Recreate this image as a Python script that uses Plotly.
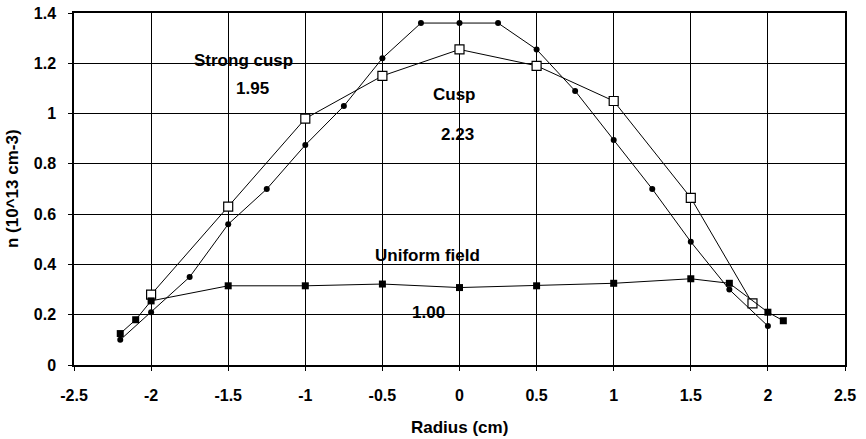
import plotly.graph_objects as go

# Radial density profiles, n in units of 10^13 cm^-3
strong_x = [-2.2, -2.0, -1.75, -1.5, -1.25, -1.0, -0.75, -0.5, -0.25, 0.0,
            0.25, 0.5, 0.75, 1.0, 1.25, 1.5, 1.75, 2.0]
strong_y = [0.10, 0.21, 0.35, 0.56, 0.70, 0.875, 1.03, 1.22, 1.36, 1.36,
            1.36, 1.255, 1.09, 0.895, 0.70, 0.49, 0.30, 0.155]

cusp_x = [-2.0, -1.5, -1.0, -0.5, 0.0, 0.5, 1.0, 1.5, 1.9]
cusp_y = [0.28, 0.63, 0.98, 1.15, 1.255, 1.19, 1.05, 0.665, 0.245]

uniform_x = [-2.2, -2.1, -2.0, -1.5, -1.0, -0.5, 0.0, 0.5, 1.0, 1.5, 1.75, 2.0, 2.1]
uniform_y = [0.125, 0.18, 0.255, 0.315, 0.315, 0.322, 0.308, 0.315, 0.325, 0.343,
             0.325, 0.21, 0.176]

x_ticks = [-2.5, -2, -1.5, -1, -0.5, 0, 0.5, 1, 1.5, 2, 2.5]
x_tick_text = ["-2.5", "-2", "-1.5", "-1", "-0.5", "0", "0.5", "1", "1.5", "2", "2.5"]
y_ticks = [0, 0.2, 0.4, 0.6, 0.8, 1, 1.2, 1.4]
y_tick_text = ["0", "0.2", "0.4", "0.6", "0.8", "1", "1.2", "1.4"]

labels = ["Strong cusp", "1.95", "Cusp", "2.23", "Uniform field", "1.00"]
label_x = [-1.40, -1.34, -0.03, -0.01, -0.21, -0.20]
label_y = [1.213, 1.10, 1.074, 0.918, 0.437, 0.21]

FONT = "Liberation Sans, Arial, sans-serif"
TICK = dict(family=FONT, size=16, color="black", weight="bold")
TXT = dict(family=FONT, size=17, color="black", weight="bold")

fig = go.Figure()
fig.add_trace(go.Scatter(
    x=strong_x, y=strong_y, mode="lines+markers", name="Strong cusp",
    line=dict(color="black", width=1),
    marker=dict(symbol="circle", size=6, color="black"),
))
fig.add_trace(go.Scatter(
    x=cusp_x, y=cusp_y, mode="lines+markers", name="Cusp",
    line=dict(color="black", width=1),
    marker=dict(symbol="square", size=9, color="white",
                line=dict(color="black", width=1.2)),
))
fig.add_trace(go.Scatter(
    x=uniform_x, y=uniform_y, mode="lines+markers", name="Uniform field",
    line=dict(color="black", width=1),
    marker=dict(symbol="square", size=7, color="black"),
))

for t, x, y in zip(labels, label_x, label_y):
    fig.add_annotation(x=x, y=y, text=t, showarrow=False, font=TXT)

# Axis titles
fig.add_annotation(x=0.5, y=0, xref="paper", yref="paper", yshift=-62,
                   text="Radius (cm)", showarrow=False, font=TXT,
                   xanchor="center", yanchor="middle")
fig.add_annotation(x=0, y=0.5, xref="paper", yref="paper", xshift=-62,
                   text="n (10^13 cm-3)", showarrow=False, font=TXT,
                   textangle=-90, xanchor="center", yanchor="middle")

fig.update_layout(
    width=866, height=439,
    margin=dict(l=74, r=21, t=13, b=74),
    paper_bgcolor="white", plot_bgcolor="white",
    showlegend=False,
    font=TICK,
)
fig.update_xaxes(
    range=[-2.5, 2.5], tickvals=x_ticks, ticktext=x_tick_text, tickfont=TICK,
    showgrid=True, gridcolor="black", gridwidth=1.2,
    zeroline=False, showline=True, linecolor="black", linewidth=1.5, mirror=True,
    ticks="outside", ticklen=4, tickcolor="black", ticklabelstandoff=11,
    automargin=False,
)
fig.update_yaxes(
    range=[0, 1.4], tickvals=y_ticks, ticktext=y_tick_text, tickfont=TICK,
    showgrid=True, gridcolor="black", gridwidth=1.2,
    zeroline=False, showline=True, linecolor="black", linewidth=1.5, mirror=True,
    ticks="outside", ticklen=4, tickcolor="black", ticklabelstandoff=9,
    automargin=False,
)

fig.write_html("out.html")
